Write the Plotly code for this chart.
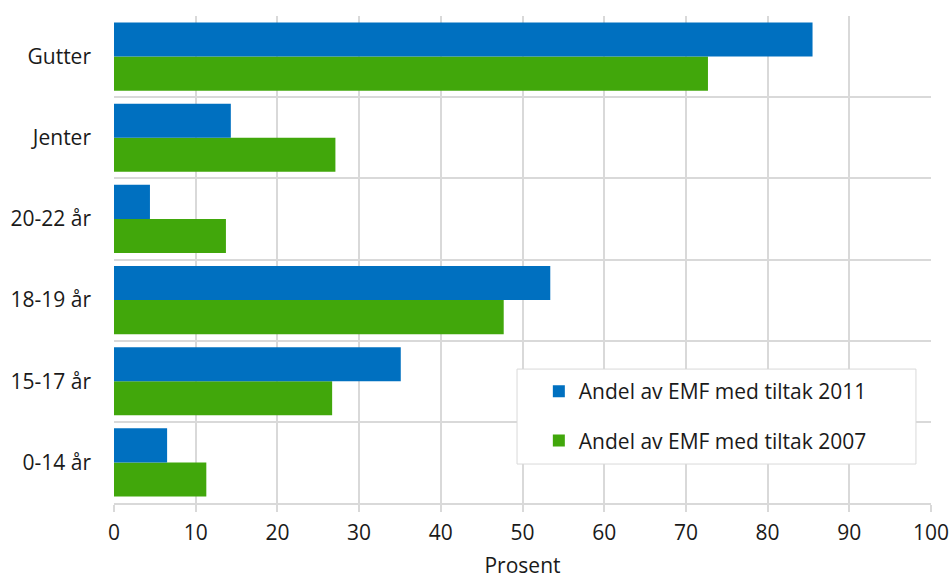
import plotly.graph_objects as go

categories = ["0-14 år", "15-17 år", "18-19 år", "20-22 år", "Jenter", "Gutter"]
values_2011 = [6.5, 35.1, 53.4, 4.4, 14.3, 85.5]
values_2007 = [11.3, 26.7, 47.7, 13.7, 27.1, 72.7]
name_2011 = "Andel av EMF med tiltak 2011"
name_2007 = "Andel av EMF med tiltak 2007"
x_ticks = list(range(0, 101, 10))

BLUE = "#0070C0"
GREEN = "#41A70B"
GRID = "#D9D9D9"
FONT = "Open Sans"
TXT = "#1a1a1a"

fig = go.Figure()
fig.add_trace(go.Bar(y=categories, x=values_2007, orientation="h", name=name_2007,
                     marker=dict(color=GREEN, line=dict(width=0)), legendgroup="b", legendrank=2))
fig.add_trace(go.Bar(y=categories, x=values_2011, orientation="h", name=name_2011,
                     marker=dict(color=BLUE, line=dict(width=0)), legendgroup="a", legendrank=1))

# legend frame (paper coordinates)
fig.add_shape(type="rect", xref="paper", yref="paper",
              x0=0.4933, x1=0.9816, y0=0.080, y1=0.275,
              line=dict(color=GRID, width=1), fillcolor="white", layer="above")

fig.update_layout(
    width=950, height=579,
    margin=dict(l=114, r=19, t=16, b=76, autoexpand=False),
    paper_bgcolor="white", plot_bgcolor="white",
    barmode="group", bargap=0.16, bargroupgap=0,
    font=dict(family=FONT, size=21, color=TXT),
    showlegend=True,
    legend=dict(x=0.520, y=0.271, xanchor="left", yanchor="top",
                bgcolor="rgba(0,0,0,0)", borderwidth=0,
                traceorder="grouped", tracegroupgap=19,
                font=dict(family=FONT, size=21, color=TXT)),
    xaxis=dict(range=[0, 100], tickvals=x_ticks, showgrid=True, gridcolor=GRID, gridwidth=2,
               zeroline=False, showline=True, linecolor=GRID, linewidth=2,
               ticks="outside", ticklen=7, tickcolor=GRID, tickwidth=2, automargin=False,
               ticklabelstandoff=3,
               title=dict(text="Prosent", standoff=28, font=dict(size=21)),
               tickfont=dict(size=21)),
    yaxis=dict(categoryorder="array", categoryarray=categories, tickson="boundaries",
               showgrid=True, gridcolor=GRID, gridwidth=2, ticks="", showline=False,
               automargin=False, ticklabelstandoff=22, tickfont=dict(size=21)),
)

fig.write_html("out.html",
               config={"displayModeBar": False},
               post_script="document.body.style.margin='0';document.body.style.overflow='hidden';")
